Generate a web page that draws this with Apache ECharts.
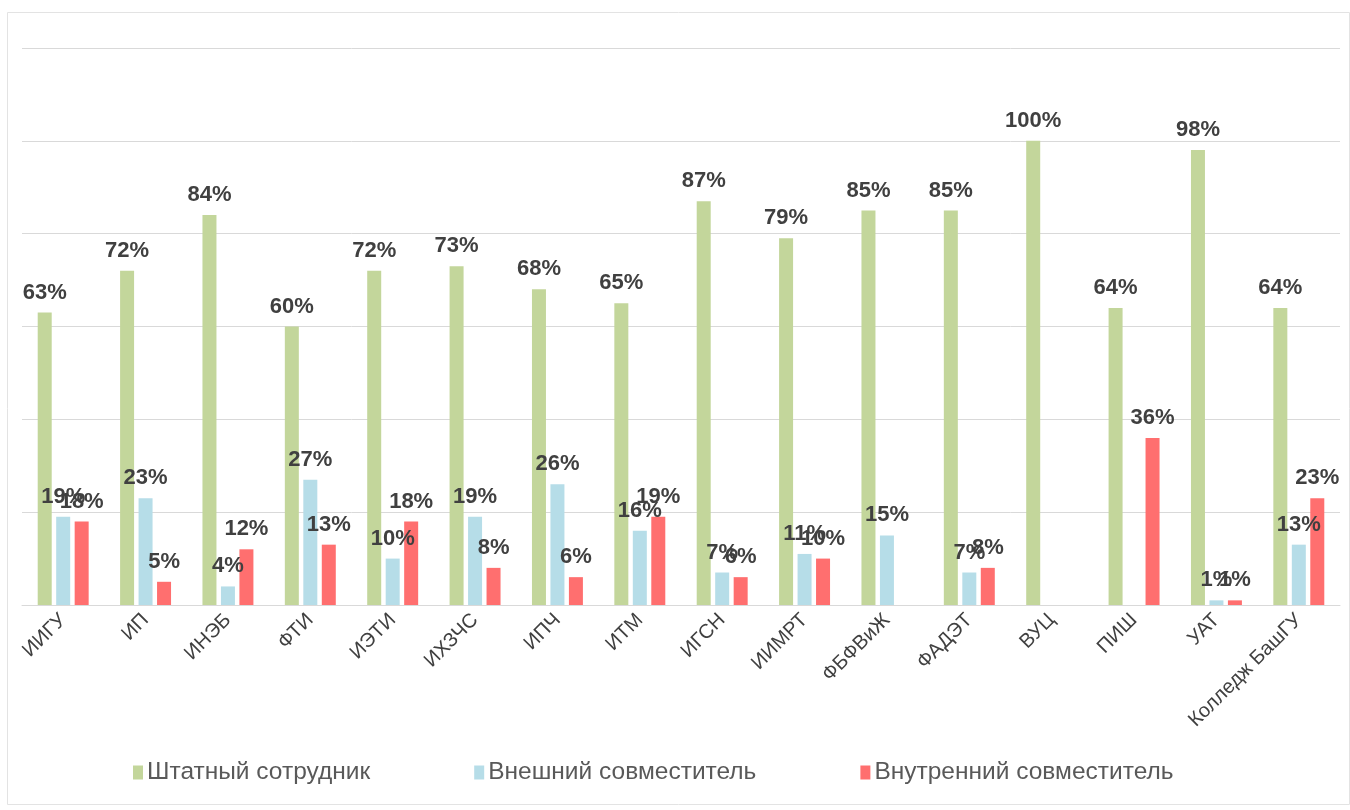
<!DOCTYPE html>
<html>
<head>
<meta charset="utf-8">
<script src="https://cdn.jsdelivr.net/npm/echarts@6/dist/echarts.min.js"></script>
<style>
html,body{margin:0;padding:0;background:#fff;}
#chart{width:1350px;height:810px;}
</style>
</head>
<body>
<div id="chart"></div>
<script>
const categories = ['ИИГУ','ИП','ИНЭБ','ФТИ','ИЭТИ','ИХЗЧС','ИПЧ','ИТМ','ИГСН','ИИМРТ','ФБФВиЖ','ФАДЭТ','ВУЦ','ПИШ','УАТ','Колледж БашГУ'];
const staff    = [63,72,84,60,72,73,68,65,87,79,85,85,100,64,98,64];
const external = [19,23,4,27,10,19,26,16,7,11,15,7,null,null,1,13];
const internal = [18,5,12,13,18,8,6,19,6,10,null,8,null,36,1,23];
const seriesNames = ['Штатный сотрудник','Внешний совместитель','Внутренний совместитель'];

const chart = echarts.init(document.getElementById('chart'));
const font = '"Liberation Sans", Arial, sans-serif';
const lbl = {show:true, position:'top', distance:9, formatter:'{c}%', color:'#404040', fontWeight:'bold', fontSize:22, fontFamily:font};
chart.setOption({
  animation:false,
  backgroundColor:'#fff',
  graphic:[{type:'rect', shape:{x:7.5,y:12.5,width:1342,height:792}, style:{fill:'none', stroke:'#e3e3e3', lineWidth:1}, silent:true}],
  grid:{left:22, right:10, top:48, bottom:205},
  legend:{
    bottom:20, left:128, itemGap:104, itemWidth:10, itemHeight:14,
    icon:'rect',
    textStyle:{color:'#595959', fontSize:24.5, fontFamily:font, padding:[0,0,0,-1]},
    data:seriesNames
  },
  xAxis:{
    type:'category', data:categories,
    axisLine:{lineStyle:{color:'#d9d9d9'}},
    axisTick:{show:false},
    axisLabel:{rotate:45, interval:0, color:'#404040', fontSize:20, fontFamily:font, margin:12}
  },
  yAxis:{
    type:'value', min:0, max:120, interval:20,
    axisLabel:{show:false}, axisLine:{show:false}, axisTick:{show:false},
    splitLine:{lineStyle:{color:'#d9d9d9', width:1}}
  },
  series:[
    {name:seriesNames[0], type:'bar', data:staff, barWidth:14, barGap:'32%', itemStyle:{color:'#c3d69b'}, label:lbl},
    {name:seriesNames[1], type:'bar', data:external, barWidth:14, barGap:'32%', itemStyle:{color:'#b6dde8'}, label:lbl},
    {name:seriesNames[2], type:'bar', data:internal, barWidth:14, barGap:'32%', itemStyle:{color:'#ff6f6f'}, label:lbl}
  ]
});
</script>
</body>
</html>
